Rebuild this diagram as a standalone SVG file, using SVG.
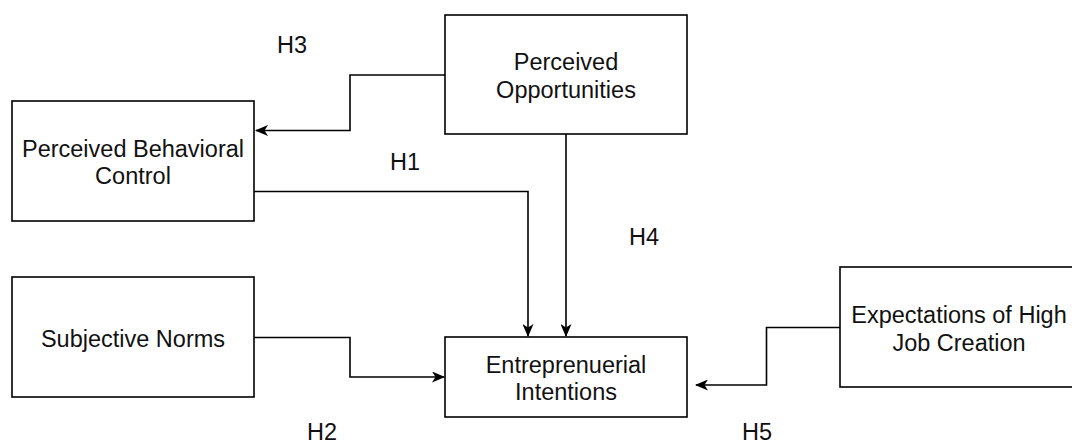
<svg xmlns="http://www.w3.org/2000/svg" width="1072" height="446" viewBox="0 0 1072 446">
<style>
.box{fill:#fff;stroke:#000;stroke-width:1.6}
.t{font-family:"Liberation Sans",Arial,sans-serif;font-size:23.5px;fill:#111;text-anchor:middle}
.h{font-family:"Liberation Sans",Arial,sans-serif;font-size:23.5px;fill:#111}
.c{fill:none;stroke:#000;stroke-width:1.6}
</style>
<defs>
<marker id="ar" viewBox="0 0 13 11" refX="12" refY="5.5" markerWidth="13" markerHeight="11" markerUnits="userSpaceOnUse" orient="auto">
<path d="M0,0 L13,5.5 L0,11 L3.5,5.5 Z" fill="#000"/>
</marker>
</defs>
<rect width="1072" height="446" fill="#fff"/>
<g id="connectors">
<path class="c" d="M445,75 H350 V130.5 H256" marker-end="url(#ar)"/>
<path class="c" d="M254,191.5 H528 V336" marker-end="url(#ar)"/>
<path class="c" d="M566,134 V336" marker-end="url(#ar)"/>
<path class="c" d="M254,337.5 H350 V377 H444" marker-end="url(#ar)"/>
<path class="c" d="M840,327.5 H766.5 V385 H696" marker-end="url(#ar)"/>
</g>
<g id="node-po">
<rect class="box" x="445" y="15" width="242" height="119"/>
<text class="t" x="566" y="70">Perceived</text>
<text class="t" x="566" y="98">Opportunities</text>
</g>
<g id="node-pbc">
<rect class="box" x="12" y="101" width="242" height="120"/>
<text class="t" x="133" y="157">Perceived Behavioral</text>
<text class="t" x="133" y="184">Control</text>
</g>
<g id="node-sn">
<rect class="box" x="12" y="277" width="242" height="120"/>
<text class="t" x="133" y="347">Subjective Norms</text>
</g>
<g id="node-ei">
<rect class="box" x="445" y="337" width="242" height="80"/>
<text class="t" x="566" y="373">Entreprenuerial</text>
<text class="t" x="566" y="400">Intentions</text>
</g>
<g id="node-ehjc">
<rect class="box" x="840" y="267" width="240" height="120"/>
<text class="t" x="959" y="323">Expectations of High</text>
<text class="t" x="959" y="351">Job Creation</text>
</g>
<g id="labels">
<text class="h" x="307" y="440">H2</text>
<text class="h" x="742" y="440">H5</text>
<text class="h" x="277" y="53">H3</text>
<text class="h" x="390" y="170">H1</text>
<text class="h" x="629" y="245">H4</text>
</g>
</svg>
